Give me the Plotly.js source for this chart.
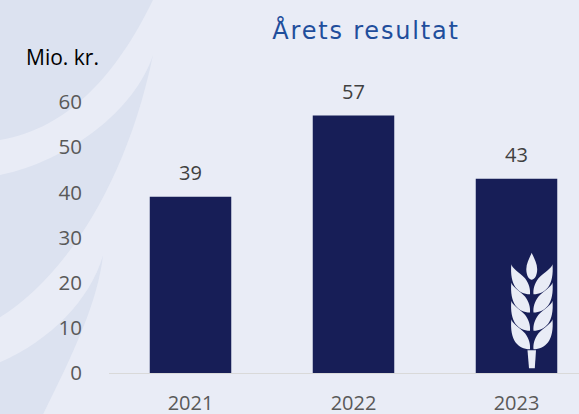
<!DOCTYPE html>
<html><head><meta charset="utf-8">
<script src="https://cdn.plot.ly/plotly-3.0.1.min.js"></script>
<style>html,body{margin:0;padding:0;background:#E9ECF6;overflow:hidden}
.gtitle{letter-spacing:1.8px}</style>
</head><body><div id="chart" style="width:579px;height:414px"></div>
<script>
const years = ['2021','2022','2023'];
const values = [39,57,43];
const yTicks = [0,10,20,30,40,50,60];
const W=579,H=414,L=109,B=372.7,T=102;
const fx=x=>((x-L)/(W-L)).toFixed(5), fy=y=>((B-y)/(B-T)).toFixed(5);
function P(d){
  return d.replace(/(-?[\d.]+) (-?[\d.]+)/g,(m,a,b)=>fx(+a)+' '+fy(+b));
}
const bgShapes=[
 'M0 0 L153 0 C118 72 70 128 0 140 Z',
 'M153 55 C135 110 70 160 0 175 L0 317 C60 280 125 190 153 55 Z',
 'M103 255 C90 300 50 340 0 362 L0 414 L43 414 C75 350 98 300 103 255 Z'
];
const wheat=[
 'M531.7 252.5 C534 258 537.2 263 537.2 269 C537.2 276 534 279.5 531.7 279.5 C529.5 279.5 526.3 276 526.3 269 C526.3 263 529.5 258 531.7 252.5 Z'
];
const shapes=[];
bgShapes.forEach(d=>shapes.push({type:'path',xref:'paper',yref:'paper',path:P(d),fillcolor:'#DCE2F0',line:{width:0},layer:'below'}));
const left=dy=>`M511.3 ${264+dy} C512 ${268+dy} 519 ${272+dy} 525 ${278+dy} C529 ${283+dy} 530.5 ${289+dy} 530 ${294+dy} C518 ${294+dy} 509.5 ${285+dy} 511.3 ${264+dy} Z`;
const right=dy=>`M552.5 ${264+dy} C551.8 ${268+dy} 544.5 ${272+dy} 538.5 ${278+dy} C534.5 ${283+dy} 533 ${289+dy} 533.5 ${294+dy} C545.5 ${294+dy} 554.3 ${285+dy} 552.5 ${264+dy} Z`;
[0,18.3,36.6,55].forEach(dy=>{wheat.push(left(dy));wheat.push(right(dy));});
wheat.push('M527.5 350 L536 350 L534.8 368 L529 368 Z');
wheat.forEach(d=>shapes.push({type:'path',xref:'paper',yref:'paper',path:P(d),fillcolor:'#E9ECF6',line:{width:0},layer:'above'}));
const annotations=years.map((y,i)=>({x:i,y:values[i],text:String(values[i]),showarrow:false,yanchor:'bottom',yshift:9,font:{family:'Open Sans',size:20,color:'#404040'}}));
annotations.push({xref:'paper',yref:'paper',x:fx(62),y:fy(57),xanchor:'center',yanchor:'middle',text:'Mio. kr.',showarrow:false,font:{family:'Open Sans',size:21,color:'#000'}});
Plotly.newPlot('chart',[{type:'bar',x:years,y:values,marker:{color:'#171E57'},width:0.5,hoverinfo:'skip'}],{
 width:W,height:H,margin:{l:L,r:0,t:T,b:H-B,pad:0},
 paper_bgcolor:'#E9ECF6',plot_bgcolor:'rgba(0,0,0,0)',
 showlegend:false,shapes,annotations,
 title:{text:'Årets resultat',font:{family:'DejaVu Sans',size:24,color:'#1F4E9C'},x:(366/W),xanchor:'center',xref:'container',y:1-31/H,yanchor:'middle'},
 xaxis:{type:'category',range:[-0.5,-0.5+(W-L)/163],showgrid:false,zeroline:false,showline:false,ticks:'',tickfont:{family:'Open Sans',size:20,color:'#595959'},ticklabelstandoff:16},
 yaxis:{range:[0,60],tickvals:yTicks,showgrid:false,zeroline:true,zerolinecolor:'#D9D9D9',zerolinewidth:1,showline:false,ticks:'',tickfont:{family:'Open Sans',size:20.5,color:'#595959'},ticklabelstandoff:26}
},{displayModeBar:false,staticPlot:true});
</script></body></html>
